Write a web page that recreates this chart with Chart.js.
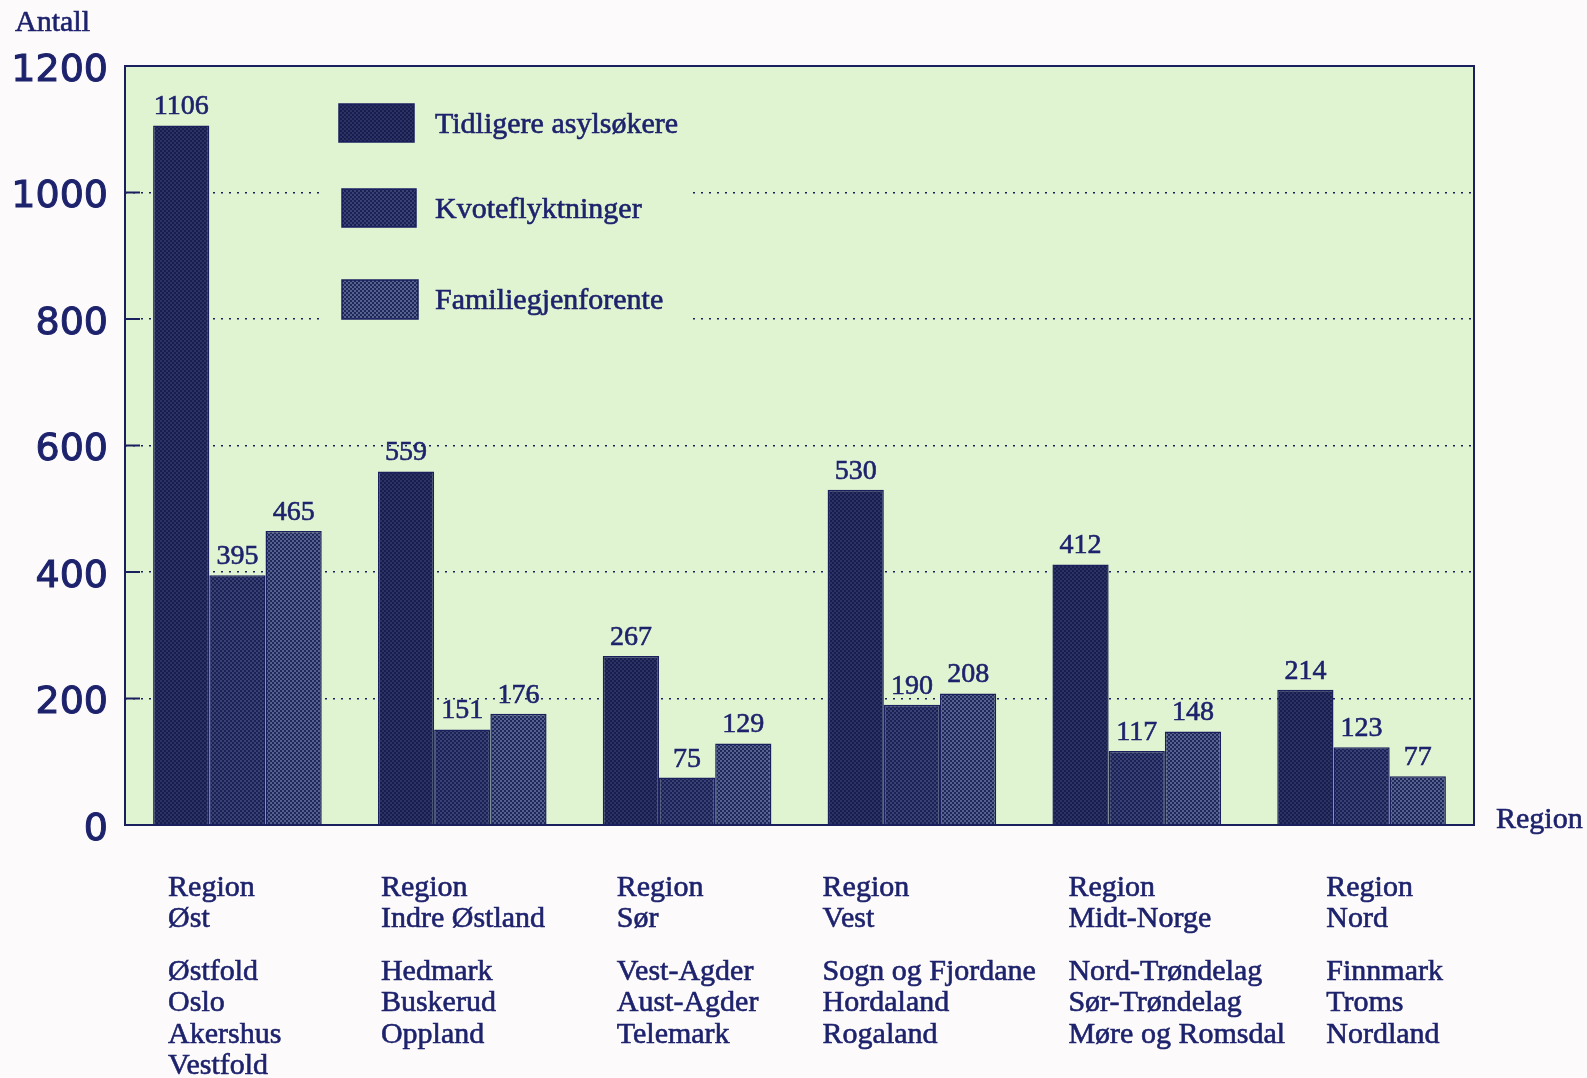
<!DOCTYPE html>
<html>
<head>
<meta charset="utf-8">
<script src="https://cdn.jsdelivr.net/npm/chart.js@4/dist/chart.umd.min.js"></script>
<style>
  body { margin: 0; background: #fcfafb; }
  #wrap { width: 1587px; height: 1078px; }
</style>
</head>
<body>
<div id="wrap"><canvas id="regionChart" width="1587" height="1078"></canvas></div>
<script>
// Data
const regionNames = ['Øst', 'Indre Østland', 'Sør', 'Vest', 'Midt-Norge', 'Nord'];
const counties = [
  ['Østfold', 'Oslo', 'Akershus', 'Vestfold'],
  ['Hedmark', 'Buskerud', 'Oppland'],
  ['Vest-Agder', 'Aust-Agder', 'Telemark'],
  ['Sogn og Fjordane', 'Hordaland', 'Rogaland'],
  ['Nord-Trøndelag', 'Sør-Trøndelag', 'Møre og Romsdal'],
  ['Finnmark', 'Troms', 'Nordland']
];
const seriesNames = ['Tidligere asylsøkere', 'Kvoteflyktninger', 'Familiegjenforente'];
const tidligere = [1106, 559, 267, 530, 412, 214];
const kvote = [395, 151, 75, 190, 117, 123];
const familie = [465, 176, 129, 208, 148, 77];
const yTicks = [0, 200, 400, 600, 800, 1000, 1200];

const navy = '#1a1f5e';
const textNavy = '#1d226c';
const plotBg = '#e0f4d2';
const serif = '"Liberation Serif", "DejaVu Serif", serif';

// small shift of each category label block from the left edge of its bar group
const labelShift = [15, 3, 14, -5, 16, 49];

// dot-screen fill like the printed original
function makePattern(base, dot) {
  const c = document.createElement('canvas');
  c.width = 4; c.height = 4;
  const g = c.getContext('2d');
  g.fillStyle = base;
  g.fillRect(0, 0, 4, 4);
  g.fillStyle = dot;
  g.fillRect(0, 0, 2, 2);
  g.fillRect(2, 2, 2, 2);
  return g.createPattern(c, 'repeat');
}
const fills = [
  makePattern('#181d4e', '#2a3364'),
  makePattern('#1b2154', '#384274'),
  makePattern('#20285b', '#56628e')
];

// printed text is a little heavier than the screen font
function heavyText(ctx, s, x, y) {
  ctx.strokeText(s, x, y);
  ctx.fillText(s, x, y);
}

const plotPlugin = {
  id: 'plotDecor',
  beforeDraw(chart) {
    const { ctx, chartArea: a } = chart;
    ctx.save();
    ctx.fillStyle = plotBg;
    ctx.fillRect(a.left, a.top, a.right - a.left, a.bottom - a.top);
    ctx.restore();
  },
  beforeDatasetsDraw(chart) {
    // legend inside the plot, covering the grid behind it
    const { ctx, chartArea: a } = chart;
    ctx.save();
    ctx.fillStyle = plotBg;
    ctx.fillRect(319, a.top + 2, 369, 280);
    const rows = [
      { x: 339, y: 104, w: 75, h: 38, ty: 125 },
      { x: 342, y: 189, w: 74, h: 38, ty: 210 },
      { x: 342, y: 280, w: 76, h: 39, ty: 301 }
    ];
    ctx.font = '30px ' + serif;
    ctx.textBaseline = 'middle';
    ctx.textAlign = 'left';
    rows.forEach((r, i) => {
      ctx.fillStyle = fills[i];
      ctx.fillRect(r.x, r.y, r.w, r.h);
      ctx.strokeStyle = navy;
      ctx.lineWidth = 1.5;
      ctx.strokeRect(r.x, r.y, r.w, r.h);
      ctx.fillStyle = textNavy;
      ctx.strokeStyle = textNavy;
      ctx.lineWidth = 0.6;
      heavyText(ctx, chart.data.datasets[i].label, 435, r.ty);
    });
    ctx.restore();
  },
  afterDatasetsDraw(chart) {
    const { ctx, chartArea: a } = chart;
    const y = chart.scales.y;
    ctx.save();
    // value labels
    ctx.font = '28px ' + serif;
    ctx.fillStyle = textNavy;
    ctx.strokeStyle = textNavy;
    ctx.lineWidth = 0.6;
    ctx.textAlign = 'center';
    ctx.textBaseline = 'alphabetic';
    chart.data.datasets.forEach((ds, di) => {
      chart.getDatasetMeta(di).data.forEach((bar, i) => {
        heavyText(ctx, String(ds.data[i]), bar.x, bar.y - 11);
      });
    });
    // frame and inner tick marks
    ctx.strokeStyle = navy;
    ctx.lineWidth = 2;
    ctx.strokeRect(a.left, a.top, a.right - a.left, a.bottom - a.top);
    yTicks.forEach(v => {
      const py = y.getPixelForValue(v);
      ctx.beginPath();
      ctx.moveTo(a.left, py);
      ctx.lineTo(a.left + 15, py);
      ctx.stroke();
    });
    ctx.restore();
  },
  afterDraw(chart) {
    const { ctx, chartArea: a } = chart;
    const x = chart.scales.x;
    const half = (a.right - a.left) / regionNames.length * 0.75 / 2;
    ctx.save();
    ctx.fillStyle = textNavy;
    ctx.strokeStyle = textNavy;
    ctx.lineWidth = 0.6;
    ctx.font = '30px ' + serif;
    ctx.textAlign = 'left';
    ctx.textBaseline = 'middle';
    heavyText(ctx, 'Antall', 15, 23);
    heavyText(ctx, 'Region', 1496, 820);
    regionNames.forEach((name, i) => {
      const lx = x.getPixelForValue(i) - half + labelShift[i];
      heavyText(ctx, 'Region', lx, 888);
      heavyText(ctx, name, lx, 919);
      counties[i].forEach((c, k) => {
        heavyText(ctx, c, lx, 972 + k * 31.5);
      });
    });
    ctx.restore();
  }
};

const ctx = document.getElementById('regionChart').getContext('2d');
const regionChart = new Chart(ctx, {
  type: 'bar',
  data: {
    labels: regionNames,
    datasets: [
      { label: seriesNames[0], data: tidligere, backgroundColor: fills[0] },
      { label: seriesNames[1], data: kvote, backgroundColor: fills[1] },
      { label: seriesNames[2], data: familie, backgroundColor: fills[2] }
    ]
  },
  options: {
    responsive: false,
    animation: false,
    datasets: {
      bar: {
        barPercentage: 1,
        categoryPercentage: 0.75,
        borderColor: navy,
        borderWidth: 1.5
      }
    },
    layout: { padding: { top: 66, left: 0, right: 113, bottom: 253 } },
    plugins: {
      legend: { display: false },
      tooltip: { enabled: false }
    },
    scales: {
      x: {
        grid: { display: false, drawTicks: false },
        border: { display: false },
        ticks: { display: false }
      },
      y: {
        min: 0,
        max: 1200,
        afterBuildTicks: s => { s.ticks = yTicks.map(v => ({ value: v })); },
        afterFit: s => { s.width = 125; },
        grid: {
          drawTicks: false,
          lineWidth: 1.5,
          color: c => (c.tick && (c.tick.value === 0 || c.tick.value === 1200)) ? 'rgba(0,0,0,0)' : navy
        },
        border: { display: false, dash: [2, 6] },
        ticks: {
          padding: 17,
          labelOffset: 5,
          color: textNavy,
          textStrokeColor: textNavy,
          textStrokeWidth: 1,
          callback: v => String(v),
          font: { family: '"DejaVu Sans", sans-serif', size: 38 }
        }
      }
    }
  },
  plugins: [plotPlugin]
});
</script>
</body>
</html>
